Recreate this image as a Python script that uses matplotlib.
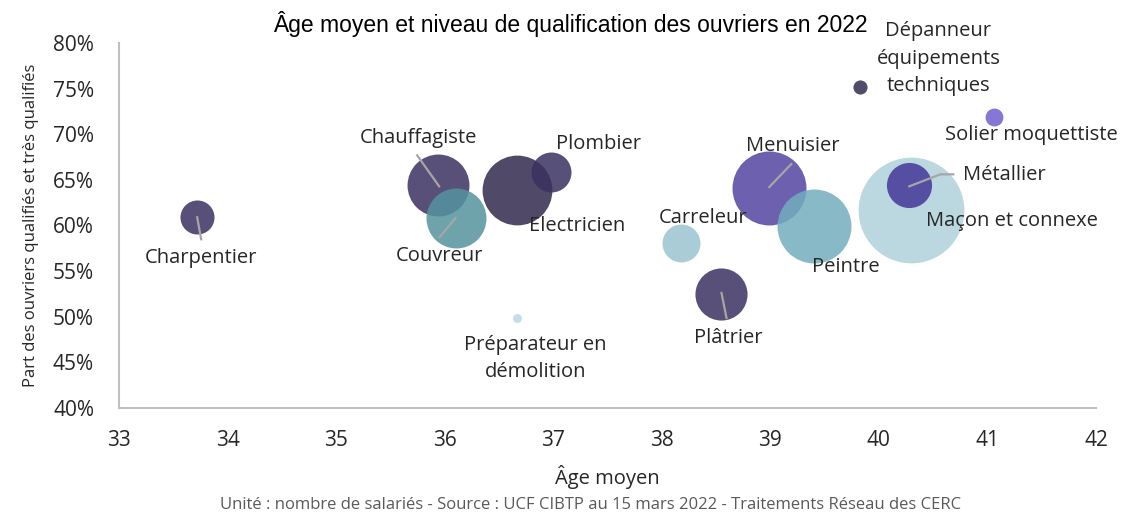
import matplotlib
matplotlib.use("Agg")
import matplotlib.pyplot as plt
import matplotlib.transforms as mtransforms

plt.rcParams['font.family'] = ['Open Sans', 'DejaVu Sans']

# data
metiers = ['Charpentier', 'Chauffagiste', 'Couvreur', 'Electricien', 'Plombier',
           'Carreleur', 'Plâtrier', 'Menuisier', 'Peintre', 'Maçon et connexe',
           'Métallier', 'Dépanneur\néquipements\ntechniques', 'Solier moquettiste',
           'Préparateur en\ndémolition']
age_moyen = [33.72, 35.94, 36.10, 36.67, 36.98, 38.18, 38.55, 38.99, 39.40, 40.30,
             40.28, 39.83, 41.06, 36.67]
part_qualif = [60.9, 64.4, 60.8, 63.9, 65.9, 58.1, 52.5, 64.1, 59.9, 61.7,
               64.4, 75.2, 71.9, 49.9]
salaries = [2900, 9600, 9000, 12200, 4000, 3600, 6800, 13700, 13700, 28000,
            5100, 500, 800, 200]

colors = ['#3b3160', '#3b3160', '#55939e', '#312a4e', '#3a3160', '#9bc4d0', '#3b3160',
          '#5444a0', '#72adbe', '#b0d1da', '#433799', '#332c52', '#715fd1', '#bbd8e1']

# label offsets in pixels (dx right, dy down) from bubble centre
label_off = [(4, 41), (-20, -47), (-16, 38), (60, 36), (47, -28), (22, -25), (7, 44),
             (23, -42), (32, 41), (100, 11), (95, -10), (78, -28), (37, 18), (18, 41)]
# leader lines, pixel offsets from bubble centre
leaders = {0: [(0, 0), (4, 22)], 1: [(1, 1), (-21, -30)], 2: [(0, 0), (-16, 19)],
           6: [(0, -1), (5, 24)], 7: [(0, -1), (22, -24)],
           10: [(0, 1), (31, -11), (44, -11)]}

fig = plt.figure(figsize=(11.4, 5.18), dpi=100)
ax = fig.add_axes([0.1044, 0.2124, 0.857, 0.7046])
ax.set_xlim(33, 42)
ax.set_ylim(40, 80)

for i in range(len(metiers)):
    ax.scatter(age_moyen[i], part_qualif[i], s=salaries[i] * 0.207, color=colors[i],
               alpha=0.85, linewidths=0, zorder=2 + i * 0.01)

for i, pts in leaders.items():
    tr = mtransforms.Affine2D().scale(1, -1) + \
        mtransforms.ScaledTranslation(age_moyen[i], part_qualif[i], ax.transData)
    ax.plot([p[0] for p in pts], [p[1] for p in pts], color='#a6a6a6', lw=1.6,
            transform=tr, zorder=5, clip_on=False)

px = 0.72  # points per pixel at dpi 100
for i, name in enumerate(metiers):
    dx, dy = label_off[i]
    ax.annotate(name, xy=(age_moyen[i], part_qualif[i]), xytext=(dx * px, -dy * px),
                textcoords='offset points', ha='center', va='center', fontsize=14.5,
                color='#262626', linespacing=1.5, zorder=6)

ax.set_xticks(range(33, 43))
ax.set_yticks(range(40, 81, 5))
ax.set_yticklabels([f'{v}%' for v in range(40, 81, 5)])
ax.tick_params(length=0, labelsize=15, colors='#262626')
ax.tick_params(axis='x', pad=16)
ax.tick_params(axis='y', pad=18)
for s in ['top', 'right']:
    ax.spines[s].set_visible(False)
for s in ['left', 'bottom']:
    ax.spines[s].set_color('#bfbfbf')
    ax.spines[s].set_linewidth(1.5)

ax.set_xlabel('Âge moyen', fontsize=14.5, color='#262626', labelpad=10)
ax.set_ylabel('Part des ouvriers qualifiés et très qualifiés', fontsize=12,
              color='#262626', labelpad=10)
fig.text(0.5, 0.953, 'Âge moyen et niveau de qualification des ouvriers en 2022',
         ha='center', va='center', fontsize=16.5,
         family=['Liberation Sans', 'DejaVu Sans'], color='#000000')
fig.text(0.518, 0.025, 'Unité : nombre de salariés - Source : UCF CIBTP au 15 mars 2022 '
         '- Traitements Réseau des CERC', ha='center', va='center', fontsize=12,
         color='#595959')

fig.savefig('out.png', dpi=100)
